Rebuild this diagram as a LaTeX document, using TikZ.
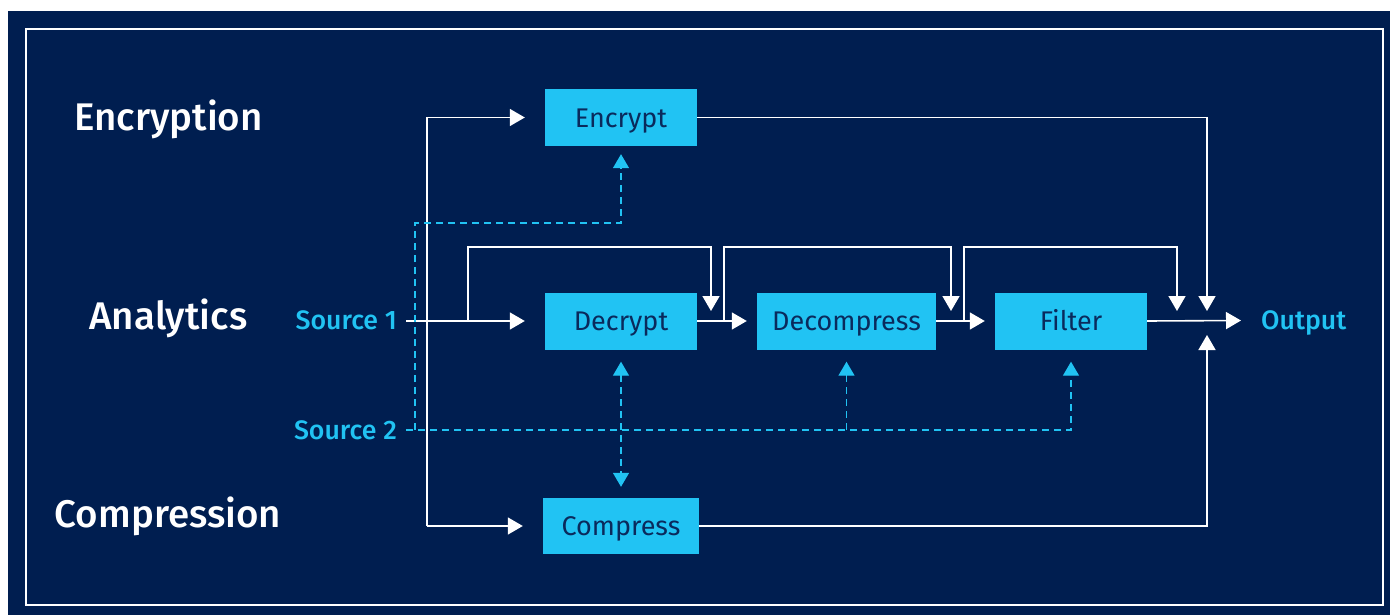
\documentclass[tikz,border=0pt]{standalone}
\usepackage{fontspec}
\setmainfont{Fira Sans}[BoldFont={Fira Sans Medium}]
\usetikzlibrary{arrows.meta,calc}
\definecolor{navy}{RGB}{0,30,80}
\definecolor{sky}{RGB}{33,195,243}
\definecolor{boxtext}{RGB}{10,42,92}
\begin{document}
\begin{tikzpicture}[x=1pt,y=-1pt,
  box/.style={fill=sky, minimum width=152pt, minimum height=57pt, inner sep=0pt, text=boxtext, text height=19.5pt, text depth=0pt, font=\fontsize{27}{27}\selectfont},
  head/.style={text=white, inner sep=0pt, text height=26.5pt, text depth=0pt, font=\fontsize{38.5}{38.5}\selectfont\bfseries},
  src/.style={text=sky, inner sep=0pt, text height=18.4pt, text depth=0pt, font=\fontsize{26.7}{26.7}\selectfont\bfseries},
  wline/.style={draw=white, line width=1.6pt},
  flow/.style={wline, -{Triangle[length=15pt,width=17pt]}},
  ctrlline/.style={draw=sky, line width=1.4pt, dash pattern=on 7pt off 5pt},
  ctrl/.style={ctrlline, -{Triangle[length=14pt,width=16pt]}},
  ctrlboth/.style={ctrlline, {Triangle[length=14pt,width=16pt]}-{Triangle[length=14pt,width=16pt]}}]
\useasboundingbox (0,0) rectangle (1390,615);
\fill[white] (0,0) rectangle (1390,615);
\fill[navy] (8,11) rectangle (1390,615);
\draw[white, line width=1.6pt] (26,29) rectangle (1383,605);

% headings
\node[head] (hEnc) at (168.5,117.5) {Encryption};
\node[head] (hAna) at (168.5,316) {Analytics};
\node[head] (hCmp) at (168,514) {Compression};

% boxes
\node[box] (enc) at (621,117.5) {Encrypt};
\node[box] (dec) at (621,321) {Decrypt};
\node[box, minimum width=179pt] (dcm) at (846.5,321) {Decompress};
\node[box] (fil) at (1071,321) {Filter};
\node[box, minimum width=156pt, minimum height=56pt] (cmp) at (621,526) {Compress};

% source / output labels
\node[src, anchor=east] (s1) at (397,320.5) {Source 1};
\node[src, anchor=east] (s2) at (397,430) {Source 2};
\node[src, anchor=west] (out) at (1261,320.5) {Output};

% junction coordinates
\coordinate (s1o) at (406,321);
\coordinate (s2o) at (406,430);
\coordinate (busT) at (427,117.5);
\coordinate (busB) at (427,526);
\coordinate (j1) at (468,321);
\coordinate (j2) at (724,321);
\coordinate (j3) at (964,321);
\coordinate (m1) at (711,311);
\coordinate (m2) at (951,311);
\coordinate (m3) at (1177,311);
\coordinate (oTop) at (1207,311);
\coordinate (oBot) at (1207,335);
\coordinate (d1) at (415,430);

% solid data flow
\draw[flow] (s1o) -- ([xshift=-20pt]dec.west);
\draw[flow] (busB) -- (busT) -- ([xshift=-20pt]enc.west);
\draw[flow] (busB) -- ([xshift=-20pt]cmp.west);
\draw[flow] (j1) -- (468,247) -| (m1);
\draw[flow] (dec.east) -- ([xshift=-10pt]dcm.west);
\draw[flow] (j2) -- (724,247) -| (m2);
\draw[flow] (dcm.east) -- ([xshift=-10pt]fil.west);
\draw[flow] (j3) -- (964,247) -| (m3);
\draw[flow] (fil.east) -- ([xshift=-20pt]out.west);
\draw[flow] (enc.east) -| (oTop);
\draw[flow] (cmp.east) -| (oBot);

% dashed control
\draw[ctrl] (s2o) -| ([yshift=-12pt]fil.south);
\draw[ctrl] (d1) -- (415,223) -| ([yshift=-8pt]enc.south);
\draw[ctrlboth] ([yshift=-12pt]dec.south) -- ([yshift=11pt]cmp.north);
\draw[ctrl] (dcm.south |- s2o) -- ([yshift=-12pt]dcm.south);
\end{tikzpicture}
\end{document}
